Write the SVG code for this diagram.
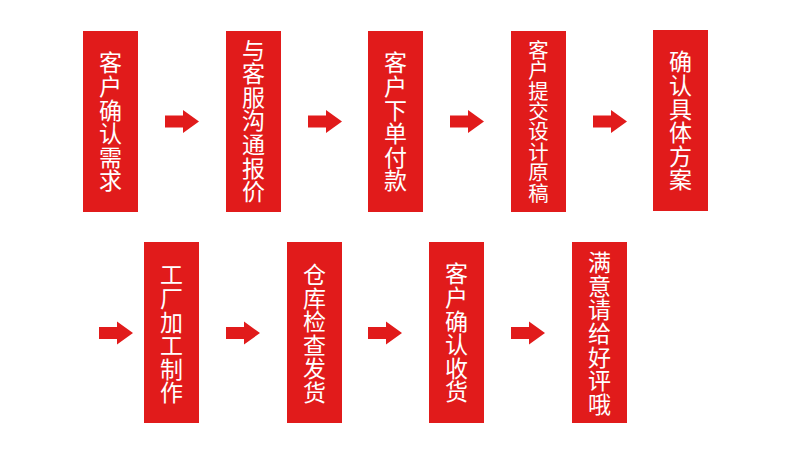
<svg xmlns="http://www.w3.org/2000/svg" width="790" height="451" viewBox="0 0 790 451">
<style>
.box{fill:#e11b1b}
.lbl{fill:#ffffff;font-family:"Noto Sans CJK SC","Microsoft YaHei",sans-serif;font-size:23px;letter-spacing:0.6px;text-anchor:middle;writing-mode:vertical-rl}
.sm{font-size:20.4px;letter-spacing:0px}
.arr{fill:#e11b1b}
</style>
<defs>
<path id="arrow" d="M0,-6 L18,-6 L18,-11.5 L34,0 L18,11.5 L18,6 L0,6 Z"/>
</defs>
<rect width="790" height="451" fill="#ffffff"/>
<g id="connectors" class="arr">
<use href="#arrow" x="165" y="121.5"/>
<use href="#arrow" x="308" y="121.5"/>
<use href="#arrow" x="450" y="121.5"/>
<use href="#arrow" x="593" y="121.5"/>
<use href="#arrow" x="99" y="333"/>
<use href="#arrow" x="226" y="333"/>
<use href="#arrow" x="368" y="333"/>
<use href="#arrow" x="511" y="333"/>
</g>
<g id="n1"><rect class="box" x="83" y="31" width="55" height="181"/>
<text class="lbl" x="110.5" y="122">客户确认需求</text></g>
<g id="n2"><rect class="box" x="226" y="31" width="55" height="181"/>
<text class="lbl" x="253.5" y="121">与客服沟通报价</text></g>
<g id="n3"><rect class="box" x="368" y="31" width="55" height="181"/>
<text class="lbl" x="395.5" y="122">客户下单付款</text></g>
<g id="n4"><rect class="box" x="511" y="31" width="55" height="181"/>
<text class="lbl sm" x="538.5" y="121.5">客户提交设计原稿</text></g>
<g id="n5"><rect class="box" x="653" y="30" width="55" height="181"/>
<text class="lbl" x="680.5" y="121">确认具体方案</text></g>
<g id="n6"><rect class="box" x="144" y="242" width="55" height="181"/>
<text class="lbl" x="171.5" y="334">工厂加工制作</text></g>
<g id="n7"><rect class="box" x="287" y="242" width="55" height="181"/>
<text class="lbl" x="314.5" y="333.5">仓库检查发货</text></g>
<g id="n8"><rect class="box" x="429" y="242" width="55" height="181"/>
<text class="lbl" x="456.5" y="333">客户确认收货</text></g>
<g id="n9"><rect class="box" x="572" y="242" width="55" height="181"/>
<text class="lbl" x="599.5" y="333.5">满意请给好评哦</text></g>
</svg>
